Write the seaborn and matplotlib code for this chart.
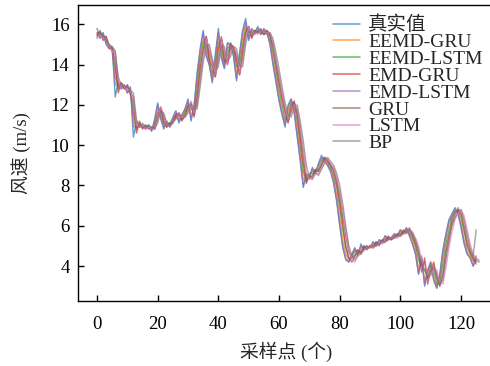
import matplotlib
matplotlib.use("Agg")
import matplotlib.pyplot as plt
import seaborn as sns
import pandas as pd
import numpy as np

labels = ["真实值", "EEMD-GRU", "EEMD-LSTM", "EMD-GRU", "EMD-LSTM", "GRU", "LSTM", "BP"]

true_vals = [15.8, 15.3, 15.6, 15.0, 14.8, 14.9, 12.4, 13.2, 12.8, 13.0, 12.6, 12.9, 10.4, 11.2, 10.9, 11.0, 10.8, 11.0, 10.7, 11.3,
             12.1, 11.3, 10.8, 11.2, 11.0, 11.4, 11.7, 11.1, 11.5, 11.8, 12.3, 11.2, 12.0, 13.6, 14.8, 15.7, 14.4, 14.0, 13.1, 14.5,
             15.8, 14.3, 13.8, 15.1, 15.0, 14.4, 13.2, 14.6, 15.7, 16.3, 15.2, 15.8, 15.6, 15.9, 15.5, 15.8, 15.6, 15.0, 14.0, 13.1,
             12.2, 11.5, 10.9, 12.0, 12.3, 11.6, 10.4, 9.2, 7.9, 8.6, 8.4, 8.9, 8.6, 9.1, 9.5, 9.2, 9.0, 8.7, 8.1, 7.2,
             6.0, 4.9, 4.3, 4.2, 4.6, 4.9, 4.5, 5.1, 4.8, 5.0, 4.9, 5.2, 5.0, 5.3, 5.2, 5.5, 5.3, 5.4, 5.6, 5.5,
             5.8, 5.6, 5.9, 5.5, 5.1, 4.6, 3.6, 4.5, 3.0, 3.8, 4.2, 3.3, 2.9, 3.6, 4.8, 5.6, 6.3, 6.6, 6.9, 6.6,
             5.9, 5.1, 4.6, 4.4, 4.0, 4.5]

eemd_gru = [15.6, 15.5, 15.4, 15.2, 14.9, 14.8, 13.4, 12.9, 13.0, 12.9, 12.7, 12.8, 11.2, 10.9, 11.0, 10.9, 10.9, 10.9, 10.8, 11.1,
            11.8, 11.5, 11.0, 11.0, 11.1, 11.3, 11.6, 11.3, 11.4, 11.7, 12.1, 11.5, 11.8, 13.2, 14.5, 15.3, 14.7, 14.1, 13.4, 14.2,
            15.4, 14.6, 14.0, 14.8, 15.0, 14.6, 13.6, 14.3, 15.3, 16.0, 15.4, 15.6, 15.6, 15.7, 15.6, 15.6, 15.6, 15.2, 14.3, 13.4,
            12.5, 11.7, 11.1, 11.7, 12.2, 11.8, 10.8, 9.6, 8.3, 8.4, 8.5, 8.7, 8.7, 9.0, 9.3, 9.3, 9.1, 8.8, 8.3, 7.5,
            6.4, 5.3, 4.6, 4.3, 4.5, 4.8, 4.6, 4.9, 4.9, 5.0, 4.9, 5.1, 5.1, 5.2, 5.2, 5.4, 5.3, 5.4, 5.5, 5.5,
            5.7, 5.6, 5.8, 5.6, 5.3, 4.8, 3.9, 4.3, 3.3, 3.7, 4.1, 3.5, 3.0, 3.4, 4.5, 5.4, 6.1, 6.5, 6.8, 6.7,
            6.1, 5.3, 4.8, 4.5, 4.2, 4.4]

eemd_lstm = [15.5, 15.6, 15.3, 15.3, 14.9, 14.7, 13.8, 12.8, 13.1, 12.9, 12.9, 12.7, 11.6, 10.8, 11.1, 10.9, 11.0, 10.9, 10.8, 11.0,
             11.6, 11.7, 11.1, 10.9, 11.1, 11.2, 11.5, 11.5, 11.3, 11.6, 12.0, 11.8, 11.6, 12.8, 14.2, 15.1, 15.0, 14.2, 13.6, 13.9,
             15.1, 14.9, 14.1, 14.5, 15.1, 14.8, 13.9, 14.0, 15.0, 15.8, 15.6, 15.5, 15.7, 15.6, 15.7, 15.5, 15.6, 15.4, 14.6, 13.7,
             12.8, 12.0, 11.3, 11.4, 12.1, 12.1, 11.2, 10.0, 8.7, 8.2, 8.6, 8.6, 8.8, 8.8, 9.2, 9.4, 9.2, 8.9, 8.5, 7.9,
             6.9, 5.8, 4.9, 4.4, 4.4, 4.7, 4.8, 4.7, 5.0, 4.9, 5.0, 5.0, 5.2, 5.1, 5.3, 5.3, 5.4, 5.3, 5.5, 5.6,
             5.6, 5.7, 5.8, 5.7, 5.4, 5.0, 4.3, 4.0, 3.8, 3.4, 4.0, 3.8, 3.1, 3.2, 4.1, 5.1, 5.8, 6.4, 6.7, 6.8,
             6.4, 5.7, 5.0, 4.6, 4.3, 4.2]

emd_gru = [15.4, 15.7, 15.2, 15.4, 14.8, 14.8, 14.2, 12.6, 13.1, 12.8, 13.0, 12.5, 12.1, 10.6, 11.2, 10.8, 11.0, 10.8, 10.9, 10.8,
           11.4, 11.9, 11.2, 10.9, 11.1, 11.1, 11.5, 11.6, 11.2, 11.5, 11.9, 12.1, 11.4, 12.4, 13.8, 14.8, 15.4, 14.3, 13.9, 13.4,
           14.8, 15.3, 14.2, 14.1, 15.0, 14.9, 14.2, 13.5, 14.7, 15.6, 15.9, 15.3, 15.7, 15.6, 15.8, 15.5, 15.7, 15.5, 14.9, 14.0,
           13.1, 12.3, 11.6, 11.1, 11.9, 12.2, 11.5, 10.3, 9.1, 8.1, 8.5, 8.4, 8.8, 8.7, 9.0, 9.4, 9.3, 9.0, 8.7, 8.1,
           7.2, 6.1, 5.0, 4.4, 4.2, 4.5, 4.8, 4.6, 5.0, 4.8, 5.0, 4.9, 5.2, 5.0, 5.3, 5.2, 5.5, 5.3, 5.4, 5.6,
           5.5, 5.8, 5.6, 5.9, 5.5, 5.1, 4.6, 3.7, 4.4, 3.1, 3.8, 4.2, 3.4, 3.0, 3.6, 4.7, 5.5, 6.2, 6.6, 6.8,
           6.6, 5.9, 5.1, 4.7, 4.4, 4.1]

emd_lstm = [15.6, 15.4, 15.5, 15.1, 14.9, 14.7, 13.0, 13.0, 12.8, 13.0, 12.6, 12.8, 10.9, 11.0, 10.9, 11.0, 10.8, 11.0, 10.7, 11.2,
            12.0, 11.4, 10.9, 11.1, 11.0, 11.3, 11.7, 11.2, 11.5, 11.8, 12.2, 11.3, 11.9, 13.5, 14.7, 15.6, 14.5, 14.0, 13.2, 14.4,
            15.6, 14.4, 13.9, 15.0, 15.0, 14.5, 13.3, 14.5, 15.6, 16.1, 15.3, 15.7, 15.6, 15.8, 15.5, 15.7, 15.6, 15.1, 14.1, 13.2,
            12.3, 11.6, 11.0, 11.9, 12.3, 11.7, 10.5, 9.3, 8.0, 8.5, 8.4, 8.8, 8.6, 9.0, 9.4, 9.2, 9.0, 8.7, 8.2, 7.3,
            6.1, 5.0, 4.4, 4.2, 4.5, 4.9, 4.5, 5.0, 4.8, 5.0, 4.9, 5.2, 5.0, 5.3, 5.2, 5.5, 5.3, 5.4, 5.6, 5.5,
            5.8, 5.6, 5.9, 5.5, 5.1, 4.6, 3.6, 4.4, 3.1, 3.7, 4.2, 3.3, 2.9, 3.5, 4.7, 5.5, 6.2, 6.5, 6.8, 6.6,
            6.0, 5.2, 4.6, 4.4, 4.0, 4.3]

gru = [15.5, 15.6, 15.4, 15.4, 15.0, 14.8, 14.6, 13.0, 12.9, 12.9, 12.9, 12.6, 12.4, 10.9, 11.0, 10.9, 10.9, 10.9, 10.8, 10.9,
       11.3, 11.8, 11.4, 11.0, 11.0, 11.1, 11.4, 11.6, 11.3, 11.4, 11.8, 12.1, 11.5, 12.1, 13.4, 14.6, 15.4, 14.6, 14.1, 13.4,
       14.3, 15.4, 14.5, 14.0, 14.8, 14.9, 14.4, 13.5, 14.4, 15.4, 15.9, 15.4, 15.6, 15.6, 15.7, 15.5, 15.7, 15.5, 15.0, 14.2,
       13.3, 12.5, 11.8, 11.2, 11.7, 12.1, 11.7, 10.7, 9.5, 8.3, 8.4, 8.5, 8.7, 8.7, 9.0, 9.3, 9.2, 9.0, 8.8, 8.3,
       7.5, 6.5, 5.5, 4.7, 4.4, 4.5, 4.7, 4.7, 4.9, 4.9, 5.0, 4.9, 5.1, 5.1, 5.2, 5.2, 5.4, 5.4, 5.4, 5.5,
       5.5, 5.7, 5.7, 5.8, 5.6, 5.3, 4.8, 4.0, 4.2, 3.4, 3.6, 4.0, 3.6, 3.1, 3.3, 4.3, 5.2, 6.0, 6.4, 6.7,
       6.8, 6.3, 5.6, 4.9, 4.5, 4.3, 4.2]

lstm = [15.4, 15.5, 15.3, 15.3, 14.9, 14.7, 14.5, 13.2, 12.8, 12.9, 12.8, 12.7, 12.2, 11.0, 10.9, 11.0, 10.8, 10.9, 10.8, 10.8,
        11.3, 11.9, 11.5, 11.0, 10.9, 11.1, 11.3, 11.6, 11.4, 11.4, 11.7, 12.2, 11.6, 12.0, 13.2, 14.4, 15.3, 14.8, 14.2, 13.5,
        14.1, 15.3, 14.7, 14.0, 14.6, 14.9, 14.6, 13.6, 14.2, 15.3, 15.9, 15.5, 15.6, 15.5, 15.7, 15.6, 15.6, 15.6, 15.1, 14.3,
        13.5, 12.6, 11.9, 11.3, 11.6, 12.0, 11.8, 10.9, 9.8, 8.6, 8.3, 8.4, 8.6, 8.6, 8.9, 9.2, 9.3, 9.1, 8.9, 8.4,
        7.7, 6.8, 5.8, 4.9, 4.3, 4.2, 4.5, 4.6, 4.8, 4.9, 5.0, 4.9, 5.0, 5.1, 5.1, 5.2, 5.3, 5.4, 5.4, 5.4,
        5.5, 5.6, 5.7, 5.8, 5.7, 5.4, 5.0, 4.3, 4.1, 3.6, 3.5, 3.9, 3.8, 3.2, 3.1, 3.9, 4.9, 5.7, 6.3, 6.6,
        6.8, 6.5, 5.8, 5.1, 4.6, 4.4, 4.3]

bp = [15.3, 15.6, 15.5, 15.2, 15.0, 14.9, 14.7, 13.4, 13.0, 12.8, 13.0, 12.7, 12.6, 11.3, 10.9, 11.1, 10.9, 11.0, 10.9, 10.8,
      11.1, 11.7, 11.6, 11.1, 10.9, 11.2, 11.3, 11.5, 11.5, 11.4, 11.6, 12.0, 11.8, 11.8, 12.9, 14.1, 15.0, 15.0, 14.3, 13.7,
      13.9, 15.0, 14.9, 14.2, 14.4, 14.9, 14.8, 13.9, 13.9, 15.0, 15.7, 15.6, 15.5, 15.7, 15.6, 15.7, 15.5, 15.6, 15.3, 14.6,
      13.8, 12.9, 12.1, 11.5, 11.4, 11.9, 12.0, 11.2, 10.2, 9.0, 8.4, 8.3, 8.6, 8.5, 8.8, 9.1, 9.4, 9.2, 9.0, 8.6,
      8.0, 7.1, 6.0, 5.0, 4.5, 4.3, 4.6, 4.6, 4.8, 4.9, 5.0, 5.0, 5.0, 5.1, 5.2, 5.2, 5.3, 5.4, 5.4, 5.5,
      5.5, 5.6, 5.7, 5.8, 5.6, 5.2, 4.6, 4.2, 3.8, 3.5, 3.8, 3.9, 3.4, 3.0, 3.6, 4.7, 5.5, 6.1, 6.6, 6.9,
      6.6, 6.0, 5.3, 4.7, 4.5, 5.8]

x_ticks = [0, 20, 40, 60, 80, 100, 120]
y_ticks = [4, 6, 8, 10, 12, 14, 16]
x_label = "采样点 (个)"
y_label = "风速 (m/s)"

series = [true_vals, eemd_gru, eemd_lstm, emd_gru, emd_lstm, gru, lstm, bp]
frames = []
for name, vals in zip(labels, series):
    frames.append(pd.DataFrame({"idx": np.arange(len(vals)), "val": vals, "model": name}))
df = pd.concat(frames, ignore_index=True)

sns.set_theme(style="ticks")
fonts = ["Liberation Serif", "Noto Sans CJK SC", "DejaVu Sans"]
plt.rcParams["font.family"] = fonts
plt.rcParams["axes.unicode_minus"] = False

fig = plt.figure(figsize=(4.9, 3.66), dpi=100)
ax = fig.add_axes([0.159, 0.178, 0.85, 0.808])

palette = sns.color_palette("tab10", 8)
sns.lineplot(data=df, x="idx", y="val", hue="model", hue_order=labels, palette=palette,
             ax=ax, linewidth=1.0, alpha=0.7, legend=False, estimator=None)

ax.set_xlim(-6.3, 131.0)
ax.set_ylim(2.27, 16.96)
ax.set_xticks(x_ticks)
ax.set_yticks(y_ticks)
ax.tick_params(direction="in", length=4, width=1, labelsize=13.5, colors="black")
for lab in ax.get_xticklabels() + ax.get_yticklabels():
    lab.set_family(fonts)
for s in ["left", "bottom", "top", "right"]:
    ax.spines[s].set_color("black")
    ax.spines[s].set_linewidth(1.0)
ax.tick_params(axis="x", pad=11)
ax.tick_params(axis="y", pad=6)

ax.set_xlabel(x_label, fontsize=13.5, family=fonts, labelpad=6)
ax.set_ylabel(y_label, fontsize=13.5, family=fonts, labelpad=14)

handles = [plt.Line2D([], [], color=c, lw=1.1, alpha=0.7) for c in palette]
leg = ax.legend(handles, labels, loc="upper left", bbox_to_anchor=(0.68, 0.957),
                bbox_transform=fig.transFigure, frameon=False, borderpad=0, borderaxespad=0,
                handlelength=1.4, handletextpad=0.4, labelspacing=-0.04,
                prop={"family": fonts, "size": 14})

fig.savefig("out.png", dpi=100)
